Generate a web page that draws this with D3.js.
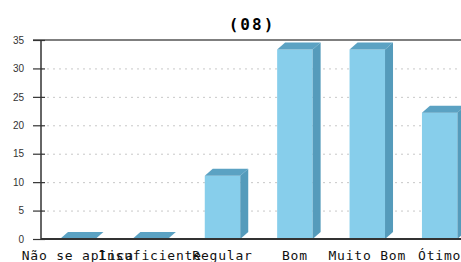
<!DOCTYPE html>
<html>
<head>
<meta charset="utf-8">
<script src="https://cdn.jsdelivr.net/npm/d3@7"></script>
<style>
  body { margin: 0; background: #fff; }
  svg { display: block; }
</style>
</head>
<body>
<div id="chart"></div>
<script>
// data (9 answers: 1, 2, 3, 3 -> percentages)
const categories = ["Não se aplica", "Insuficiente", "Regular", "Bom", "Muito Bom", "Ótimo"]
const values = [0, 0, 11.11, 33.33, 33.33, 22.22]
const yTicks = [0, 5, 10, 15, 20, 25, 30, 35]
const title = "(08)"

const width = 461, height = 262
const margin = { top: 40, left: 41, bottom: 23 }
const depth = { dx: 8, dy: 7 }

const svg = d3.select('#chart').append('svg')
  .attr('width', width)
  .attr('height', height)

const y = d3.scaleLinear()
  .domain([0, 35])
  .range([height - margin.bottom, margin.top])

// band scale, the plot runs past the right edge of the picture
const x = d3.scaleBand()
  .domain(categories)
  .range([40, 477.4])
  .paddingInner(0.51)
  .paddingOuter(0.276)

// dotted grid
svg.append('g')
  .selectAll('line')
  .data(yTicks.filter(d => d > 0 && d < 35))
  .join('line')
  .attr('x1', margin.left)
  .attr('x2', width)
  .attr('y1', d => y(d) + 0.5)
  .attr('y2', d => y(d) + 0.5)
  .style('stroke', '#c8c8c8')
  .style('stroke-dasharray', '2,4')

// bars with a fake 3d look
const bars = svg.append('g')
  .selectAll('g')
  .data(categories.map((c, i) => ({ cat: c, value: values[i] })))
  .join('g')

bars.append('rect')
  .attr('x', d => x(d.cat))
  .attr('y', d => y(d.value))
  .attr('width', x.bandwidth())
  .attr('height', d => y(0) - y(d.value))
  .style('fill', '#87ceeb')

bars.append('path') // top face
  .attr('d', d => {
    const x0 = x(d.cat), w = x.bandwidth(), t = y(d.value)
    return `M${x0},${t}L${x0 + depth.dx},${t - depth.dy}L${x0 + w + depth.dx},${t - depth.dy}L${x0 + w},${t}Z`
  })
  .style('fill', '#5ba2c3')

bars.append('path') // side face
  .attr('d', d => {
    const x0 = x(d.cat) + x.bandwidth(), t = y(d.value), b = y(0)
    return `M${x0},${t}L${x0 + depth.dx},${t - depth.dy}L${x0 + depth.dx},${b - depth.dy}L${x0},${b}Z`
  })
  .style('fill', '#559bbb')

// frame lines
svg.append('line')
  .attr('x1', 33).attr('x2', width)
  .attr('y1', y(35)).attr('y2', y(35))
  .style('stroke', '#555').style('stroke-width', 1.5)

svg.append('line')
  .attr('x1', margin.left).attr('x2', width)
  .attr('y1', y(0)).attr('y2', y(0))
  .style('stroke', '#333').style('stroke-width', 2)

// y axis
const yAxis = svg.append('g')
  .attr('transform', `translate(${margin.left},0)`)
  .call(d3.axisLeft(y).tickValues(yTicks).tickSize(0).tickPadding(0))

yAxis.select('.domain').remove()
yAxis.append('line')
  .attr('y1', y(35)).attr('y2', y(0))
  .style('stroke', '#333').style('stroke-width', 1.5)
yAxis.selectAll('.tick').append('line')
  .attr('x1', -8).attr('x2', 4)
  .style('stroke', '#333').style('stroke-width', 1.2)
yAxis.selectAll('.tick text')
  .attr('x', -17)
  .style('font-family', 'Arial, "Liberation Sans", sans-serif')
  .style('font-size', '10px')
  .style('fill', '#333')

// category labels
svg.append('g')
  .selectAll('text')
  .data(categories)
  .join('text')
  .attr('x', d => x(d) + x.bandwidth() / 2)
  .attr('y', 260)
  .attr('text-anchor', 'middle')
  .style('font-family', '"DejaVu Sans Mono", monospace')
  .style('font-size', '13px')
  .style('letter-spacing', '0.8px')
  .style('fill', '#111')
  .text(d => d)

// title
svg.append('text')
  .attr('x', 252)
  .attr('y', 30)
  .attr('text-anchor', 'middle')
  .style('font-family', '"DejaVu Sans Mono", monospace')
  .style('font-size', '16px')
  .style('font-weight', 'bold')
  .style('letter-spacing', '2px')
  .text(title)
</script>
</body>
</html>
